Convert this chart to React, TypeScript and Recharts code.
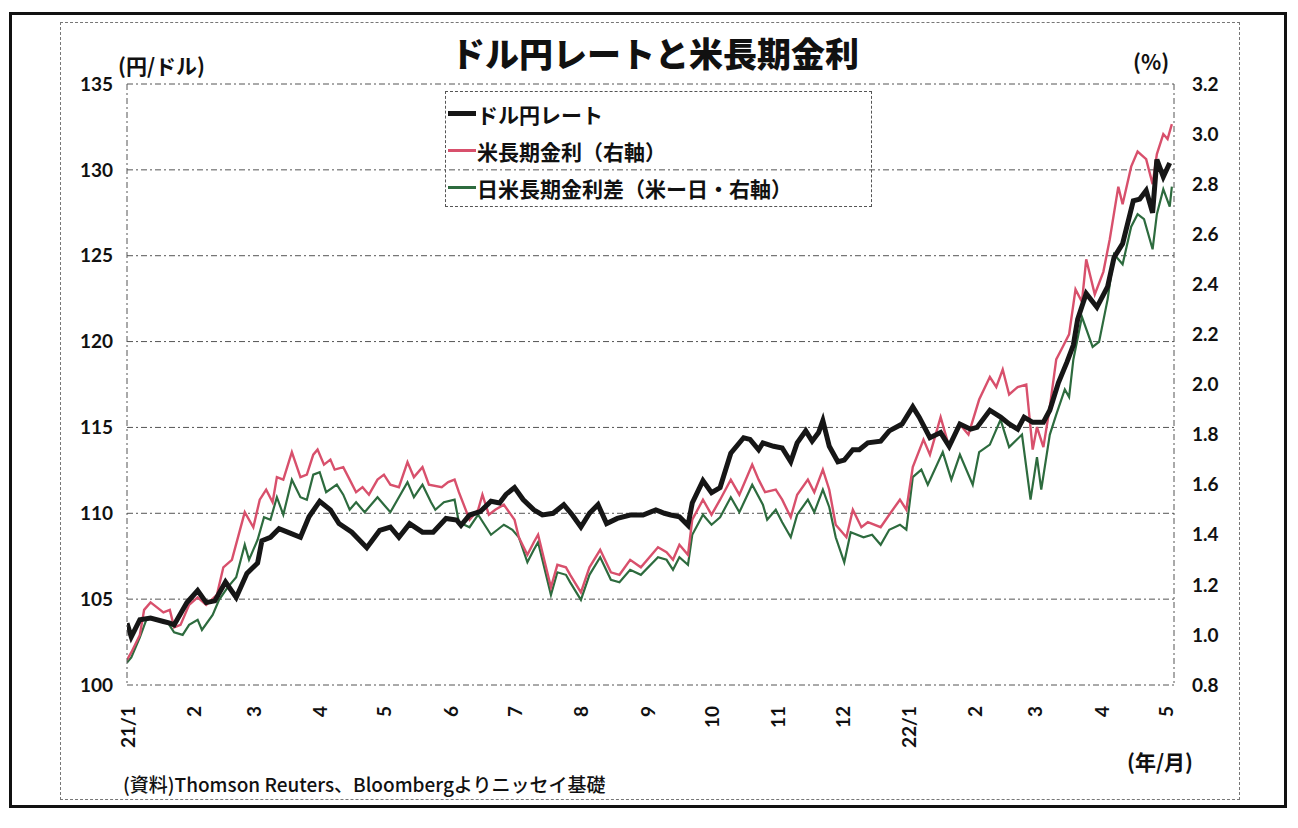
import React from 'react';
import {
  LineChart, Line, XAxis, YAxis, CartesianGrid, Legend,
} from 'recharts';

// x = days from 2021-01-01
const monthTicks = [0, 31, 59, 90, 120, 151, 181, 212, 243, 273, 304, 334, 365, 396, 424, 455, 485];
const monthLabels = ['21/1', '2', '3', '4', '5', '6', '7', '8', '9', '10', '11', '12', '22/1', '2', '3', '4', '5'];
const leftTicks = [100, 105, 110, 115, 120, 125, 130, 135];
const rightTicks = [0.8, 1.0, 1.2, 1.4, 1.6, 1.8, 2.0, 2.2, 2.4, 2.6, 2.8, 3.0, 3.2];

const seriesNames = ['ドル円レート', '米長期金利（右軸）', '日米長期金利差（米ー日・右軸）'];

// ドル円レート (円/ドル)
const usdDays = [0, 2, 6, 11, 17, 20, 22, 28, 33, 37, 41, 46, 51, 56, 61, 63, 67, 71, 75, 81, 85, 90, 95, 99, 105, 112, 118, 123, 127, 132, 138, 143, 149, 154, 156, 160, 165, 170, 174, 177, 181, 185, 190, 194, 199, 204, 208, 212, 216, 220, 224, 229, 235, 241, 247, 251, 254, 258, 262, 264, 269, 273, 277, 282, 288, 291, 295, 297, 302, 306, 310, 313, 317, 320, 323, 325, 328, 332, 335, 339, 342, 346, 352, 356, 362, 367, 370, 375, 380, 384, 389, 394, 397, 403, 408, 412, 416, 419, 423, 428, 431, 435, 439, 442, 444, 448, 453, 458, 461, 465, 470, 473, 476, 479, 481, 484, 487];
const usdRate = [103.6, 102.8, 103.8, 103.9, 103.7, 103.6, 103.5, 104.8, 105.5, 104.8, 104.9, 106.0, 105.1, 106.5, 107.1, 108.4, 108.6, 109.1, 108.9, 108.6, 109.8, 110.7, 110.2, 109.4, 108.9, 108.0, 109.0, 109.2, 108.6, 109.4, 108.9, 108.9, 109.7, 109.6, 109.3, 109.9, 110.1, 110.7, 110.6, 111.1, 111.5, 110.8, 110.2, 109.9, 110.0, 110.5, 109.9, 109.2, 110.0, 110.5, 109.4, 109.7, 109.9, 109.9, 110.2, 110.0, 109.9, 109.8, 109.3, 110.6, 111.9, 111.2, 111.5, 113.5, 114.4, 114.3, 113.7, 114.1, 113.9, 113.8, 113.0, 114.1, 114.8, 114.2, 114.7, 115.4, 113.9, 113.0, 113.1, 113.7, 113.7, 114.1, 114.2, 114.8, 115.2, 116.2, 115.6, 114.4, 114.7, 113.9, 115.2, 114.9, 115.0, 116.0, 115.6, 115.2, 114.9, 115.6, 115.3, 115.3, 116.0, 117.6, 118.8, 119.8, 121.3, 122.8, 122.0, 123.2, 124.9, 125.7, 128.2, 128.3, 128.8, 127.5, 130.6, 129.6, 130.4];

// 米長期金利 (%)
const ustDays = [0, 2, 6, 8, 11, 14, 17, 20, 22, 25, 29, 33, 37, 42, 45, 49, 55, 59, 62, 65, 68, 70, 73, 77, 81, 84, 87, 89, 92, 95, 97, 101, 104, 107, 110, 113, 117, 120, 123, 127, 131, 134, 138, 141, 147, 150, 153, 155, 160, 164, 166, 169, 172, 176, 181, 183, 187, 190, 192, 194, 198, 201, 205, 207, 212, 216, 221, 226, 230, 235, 240, 248, 252, 255, 258, 262, 264, 269, 273, 277, 282, 286, 292, 295, 298, 303, 306, 310, 313, 318, 321, 325, 328, 331, 333, 336, 339, 343, 346, 352, 356, 361, 364, 367, 372, 375, 380, 384, 389, 393, 398, 403, 406, 409, 412, 416, 420, 423, 425, 428, 431, 434, 437, 440, 443, 446, 448, 452, 456, 459, 463, 465, 469, 472, 476, 479, 481, 484, 486, 488];
const ustYield = [0.90, 0.93, 1.00, 1.10, 1.13, 1.11, 1.09, 1.10, 1.03, 1.04, 1.12, 1.15, 1.12, 1.16, 1.27, 1.30, 1.49, 1.43, 1.54, 1.58, 1.53, 1.63, 1.62, 1.73, 1.63, 1.64, 1.72, 1.74, 1.68, 1.70, 1.66, 1.67, 1.62, 1.57, 1.59, 1.56, 1.62, 1.64, 1.60, 1.59, 1.69, 1.63, 1.67, 1.60, 1.59, 1.61, 1.62, 1.57, 1.46, 1.50, 1.56, 1.48, 1.50, 1.52, 1.46, 1.39, 1.32, 1.37, 1.40, 1.33, 1.19, 1.28, 1.27, 1.24, 1.17, 1.27, 1.34, 1.25, 1.24, 1.30, 1.27, 1.35, 1.33, 1.30, 1.36, 1.32, 1.46, 1.54, 1.48, 1.54, 1.62, 1.56, 1.68, 1.62, 1.57, 1.58, 1.54, 1.47, 1.56, 1.62, 1.57, 1.66, 1.58, 1.44, 1.42, 1.39, 1.50, 1.43, 1.45, 1.43, 1.48, 1.54, 1.50, 1.67, 1.78, 1.72, 1.87, 1.75, 1.84, 1.80, 1.94, 2.03, 1.99, 2.06, 1.96, 1.99, 2.00, 1.74, 1.83, 1.75, 1.91, 2.10, 2.15, 2.20, 2.38, 2.33, 2.50, 2.36, 2.45, 2.58, 2.79, 2.72, 2.87, 2.93, 2.90, 2.80, 2.92, 3.00, 2.98, 3.04];

// 日米長期金利差 (%)
const sprDays = [0, 2, 6, 9, 11, 14, 19, 22, 26, 29, 33, 35, 40, 43, 47, 51, 55, 57, 61, 64, 67, 70, 73, 77, 81, 84, 87, 90, 93, 98, 101, 104, 107, 111, 117, 120, 123, 131, 134, 138, 142, 144, 148, 153, 155, 160, 164, 167, 170, 176, 180, 183, 187, 190, 192, 194, 198, 201, 205, 207, 212, 216, 221, 226, 230, 235, 240, 248, 252, 255, 258, 262, 264, 269, 273, 277, 282, 286, 292, 297, 299, 303, 306, 310, 313, 318, 321, 325, 328, 331, 335, 338, 344, 348, 352, 356, 361, 364, 367, 371, 374, 381, 385, 389, 395, 398, 403, 408, 412, 418, 422, 425, 427, 431, 434, 438, 440, 442, 446, 451, 454, 458, 461, 465, 469, 472, 475, 479, 481, 484, 487, 488];
const sprValue = [0.89, 0.91, 0.99, 1.06, 1.07, 1.06, 1.05, 1.01, 1.00, 1.04, 1.06, 1.02, 1.08, 1.14, 1.19, 1.23, 1.36, 1.30, 1.38, 1.47, 1.46, 1.55, 1.48, 1.62, 1.55, 1.54, 1.64, 1.65, 1.57, 1.60, 1.56, 1.50, 1.53, 1.49, 1.55, 1.52, 1.49, 1.61, 1.55, 1.60, 1.53, 1.50, 1.53, 1.54, 1.45, 1.43, 1.48, 1.44, 1.40, 1.44, 1.42, 1.39, 1.29, 1.34, 1.37, 1.30, 1.16, 1.25, 1.24, 1.21, 1.14, 1.24, 1.31, 1.22, 1.21, 1.26, 1.24, 1.31, 1.30, 1.26, 1.31, 1.28, 1.40, 1.48, 1.44, 1.47, 1.55, 1.49, 1.60, 1.52, 1.46, 1.50, 1.45, 1.39, 1.48, 1.54, 1.49, 1.58, 1.51, 1.39, 1.29, 1.41, 1.39, 1.40, 1.36, 1.42, 1.44, 1.42, 1.63, 1.66, 1.60, 1.73, 1.62, 1.72, 1.60, 1.73, 1.76, 1.86, 1.75, 1.80, 1.54, 1.71, 1.58, 1.80, 1.88, 1.98, 1.95, 2.10, 2.27, 2.15, 2.17, 2.34, 2.52, 2.48, 2.63, 2.68, 2.66, 2.54, 2.68, 2.78, 2.71, 2.79];

const usdData = usdDays.map((d, i) => ({ d, v: usdRate[i] }));
const ustData = ustDays.map((d, i) => ({ d, v: ustYield[i] }));
const sprData = sprDays.map((d, i) => ({ d, v: sprValue[i] }));

const JP = '"Noto Sans CJK JP", sans-serif';
const NUM = 'Lato, "Open Sans", sans-serif';

const MonthTick = ({ x, y, payload }: any) => {
  const idx = monthTicks.indexOf(payload.value);
  return (
    <text
      x={x} y={y + 13}
      transform={`rotate(-90, ${x}, ${y + 13})`}
      textAnchor="end" dominantBaseline="central"
      fontFamily={NUM} fontWeight={700} fontSize={19} fill="#111"
    >
      {monthLabels[idx]}
    </text>
  );
};

const LegendBox = () => {
  const colors = ['#161616', '#d8506c', '#2d6b3e'];
  const widths = [5, 2.5, 2.5];
  return (
    <div style={{
      width: 427, height: 116, border: '1px dashed #555', boxSizing: 'border-box',
      padding: '3px 0 0 2px', fontFamily: JP, fontSize: 21, fontWeight: 700, color: '#111',
    }}>
      {seriesNames.map((n, i) => (
        <div key={n} style={{ display: 'flex', alignItems: 'center', height: 37 }}>
          <span style={{ display: 'inline-block', width: 28, height: widths[i], background: colors[i], marginRight: 1 }} />
          <span>{n}</span>
        </div>
      ))}
    </div>
  );
};

export default function App() {
  return (
    <div style={{ position: 'absolute', left: 0, top: 0, width: 1298, height: 828, background: '#fff', overflow: 'hidden' }}>
      <div style={{ position: 'absolute', left: 9, top: 12, width: 1278, height: 796, border: '3px solid #111', boxSizing: 'border-box' }} />
      <div style={{ position: 'absolute', left: 60, top: 22, width: 1180, height: 778, border: '1px dashed #777', boxSizing: 'border-box' }} />
      <div style={{ position: 'absolute', left: 0, top: 28, width: 1310, textAlign: 'center', fontFamily: JP, fontWeight: 900, fontSize: 34, color: '#111' }}>
        ドル円レートと米長期金利
      </div>
      <div style={{ position: 'absolute', left: 118, top: 50, fontFamily: JP, fontWeight: 700, fontSize: 21, color: '#111' }}>(円/ドル)</div>
      <div style={{ position: 'absolute', left: 1133, top: 46, fontFamily: JP, fontWeight: 700, fontSize: 21, color: '#111' }}>(%)</div>
      <div style={{ position: 'absolute', left: 1127, top: 746, fontFamily: JP, fontWeight: 700, fontSize: 21, color: '#111' }}>(年/月)</div>
      <div style={{ position: 'absolute', left: 123, top: 770, fontFamily: JP, fontWeight: 500, fontSize: 19, color: '#111' }}>
        (資料)Thomson Reuters、Bloombergよりニッセイ基礎
      </div>
      <div style={{ position: 'absolute', left: 0, top: 0 }}>
        <LineChart width={1298} height={828} margin={{ top: 84, right: 64, bottom: 83, left: 67 }}>
          <CartesianGrid yAxisId="left" vertical={false} stroke="#555" strokeDasharray="6 3 2 3" />
          <XAxis
            type="number" dataKey="d" domain={[0, 489]} ticks={monthTicks}
            interval={0} allowDataOverflow height={60}
            axisLine={false} tickLine={false} tick={<MonthTick />}
          />
          <YAxis
            yAxisId="left" domain={[100, 135]} ticks={leftTicks} width={60}
            axisLine={{ stroke: '#555', strokeDasharray: '6 3 2 3' }} tickLine={false}
            tickMargin={8}
            tick={{ fontFamily: NUM, fontWeight: 700, fontSize: 19, fill: '#111' }}
          />
          <YAxis
            yAxisId="right" orientation="right" domain={[0.8, 3.2]} ticks={rightTicks} width={60}
            axisLine={{ stroke: '#555', strokeDasharray: '6 3 2 3' }} tickLine={false}
            tickMargin={12} tickFormatter={(v: number) => v.toFixed(1)}
            tick={{ fontFamily: NUM, fontWeight: 700, fontSize: 19, fill: '#111', textAnchor: 'start' }}
          />
          <Legend
            layout="horizontal" verticalAlign="middle" align="center"
            content={<LegendBox />}
            wrapperStyle={{ position: 'absolute', left: 445, top: 91, width: 427 }}
          />
          <Line yAxisId="right" data={sprData} dataKey="v" name={seriesNames[2]} type="linear"
            stroke="#2d6b3e" strokeWidth={2.2} dot={false} isAnimationActive={false} />
          <Line yAxisId="right" data={ustData} dataKey="v" name={seriesNames[1]} type="linear"
            stroke="#d8506c" strokeWidth={2.4} dot={false} isAnimationActive={false} />
          <Line yAxisId="left" data={usdData} dataKey="v" name={seriesNames[0]} type="linear"
            stroke="#161616" strokeWidth={5} dot={false} isAnimationActive={false} />
        </LineChart>
      </div>
    </div>
  );
}
